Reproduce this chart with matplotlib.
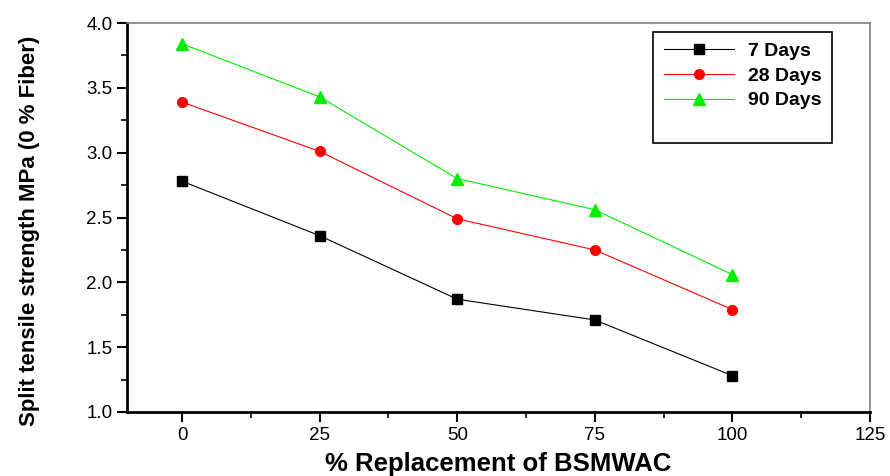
import numpy as np
import matplotlib.pyplot as plt
from matplotlib.ticker import MultipleLocator

# Datos
replacement = [0, 25, 50, 75, 100]
days7 = [2.78, 2.36, 1.87, 1.71, 1.28]
days28 = [3.39, 3.01, 2.49, 2.25, 1.79]
days90 = [3.84, 3.43, 2.80, 2.56, 2.06]

plt.rcParams['font.family'] = ['Liberation Sans', 'DejaVu Sans']

fig = plt.figure(figsize=(8.9, 4.76), dpi=100)
ax = fig.add_axes([127 / 890, 1 - 412 / 476, 743 / 890, 389 / 476])

ax.plot(replacement, days7, color='black', lw=0.8, marker='s', ms=6.5, label='7 Days')
ax.plot(replacement, days28, color='red', lw=0.8, marker='o', ms=7, label='28 Days')
ax.plot(replacement, days90, color='#00ee00', lw=0.8, marker='^', ms=9, label='90 Days')
# fila vacia para dejar el hueco inferior de la leyenda
ax.plot([], [], ' ', label=' ')

ax.set_xlim(-10, 125)
ax.set_ylim(1.0, 4.0)
ax.xaxis.set_major_locator(MultipleLocator(25))
ax.xaxis.set_minor_locator(MultipleLocator(12.5))
ax.yaxis.set_major_locator(MultipleLocator(0.5))
ax.yaxis.set_minor_locator(MultipleLocator(0.25))
ax.tick_params(which='major', direction='out', length=7, width=1.5, labelsize=13.5)
ax.tick_params(which='minor', direction='out', length=4, width=1.2)
ax.yaxis.set_major_formatter(plt.FormatStrFormatter('%.1f'))

for s in ['left', 'bottom']:
    ax.spines[s].set_linewidth(2)
for s in ['top', 'right']:
    ax.spines[s].set_color('gray')
    ax.spines[s].set_linewidth(1.2)

ax.set_xlabel('% Replacement of BSMWAC', fontsize=18.5, fontweight='bold')
ax.xaxis.set_label_coords(0.5, -0.104)
ax.set_ylabel('Split tensile strength MPa (0 % Fiber)', fontsize=16, fontweight='bold')
ax.yaxis.set_label_coords(-0.117, 0.465)

leg = ax.legend(loc='upper right', bbox_to_anchor=(0.949, 0.977), borderaxespad=0,
                fancybox=False, edgecolor='black', prop={'weight': 'bold', 'size': 14},
                handlelength=3.6, handletextpad=0.7, borderpad=0.55, labelspacing=0.36,
                framealpha=1)
leg.get_frame().set_linewidth(1.2)
leg.get_texts()[3].set_fontsize(6)

plt.savefig('out.png', dpi=100)
